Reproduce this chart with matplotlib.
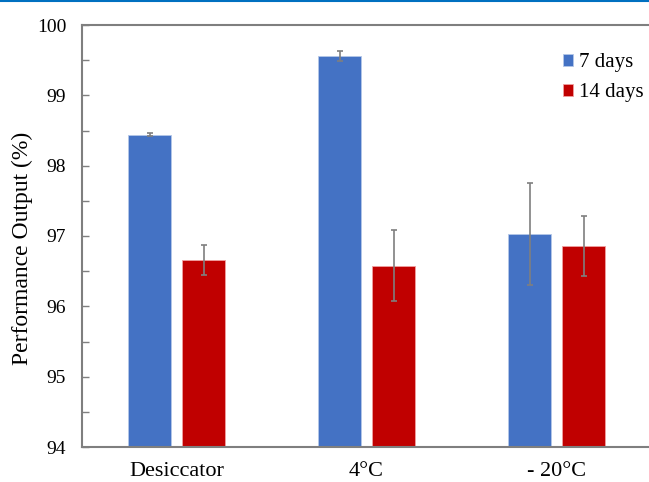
import matplotlib
matplotlib.use("Agg")
import matplotlib.pyplot as plt
from matplotlib.lines import Line2D
from matplotlib.ticker import MultipleLocator
import numpy as np

plt.rcParams['font.family'] = ['Liberation Serif', 'DejaVu Serif']

categories = ['Desiccator', '4°C', '- 20°C']
series_names = ['7 days', '14 days']
values_7 = [98.44, 99.56, 97.03]
errors_7 = [0.02, 0.07, 0.72]
values_14 = [96.66, 96.58, 96.86]
errors_14 = [0.21, 0.50, 0.43]

W, H = 649, 482
fig = plt.figure(figsize=(W / 100, H / 100), dpi=100)

left_px, right_px, top_px, bottom_px = 81.5, 651.5, 25, 447
ax = fig.add_axes([left_px / W, 1 - bottom_px / H,
                   (right_px - left_px) / W, (bottom_px - top_px) / H])

cat_px = 190.0
x = np.arange(len(categories))
off = 27 / cat_px
bw = 43 / cat_px

ekw = dict(ecolor='#7f7f7f', elinewidth=1.2, capsize=2.5, capthick=1.2)
ax.bar(x - off, values_7, bw, yerr=errors_7, color='#4472C4',
       edgecolor='#b4c7e7', linewidth=0.6, label=series_names[0],
       error_kw=ekw, zorder=2)
ax.bar(x + off, values_14, bw, yerr=errors_14, color='#C00000',
       edgecolor='#f0a0a0', linewidth=0.6, label=series_names[1],
       error_kw=ekw, zorder=2)

ax.set_ylim(94, 100)
ax.set_xlim(-0.5, 2.5)
ax.yaxis.set_major_locator(MultipleLocator(1))
ax.yaxis.set_minor_locator(MultipleLocator(0.5))
ax.set_xticks(x)
ax.set_xticklabels(categories)

for s in ax.spines.values():
    s.set_color('#7f7f7f')
    s.set_linewidth(1.5)
ax.spines['right'].set_visible(False)

ax.tick_params(axis='y', which='both', direction='in', length=5, width=1,
               color='#7f7f7f', pad=11, labelsize=14)
ax.tick_params(axis='x', length=0, pad=11, labelsize=16)

ax.set_ylabel('Performance Output (%)', fontsize=17)
ax.yaxis.set_label_coords(33 / W, 1 - 248 / H, transform=fig.transFigure)

ax.legend(loc='upper left', bbox_to_anchor=(563 / W, 1 - 53 / H),
          bbox_transform=fig.transFigure, frameon=False, fontsize=15,
          handlelength=0.5, handleheight=0.5, handletextpad=0.25,
          labelspacing=0.55, borderpad=0, borderaxespad=0)

fig.add_artist(Line2D([0, 1], [1 - 1 / H, 1 - 1 / H], color='#0070c0',
                      linewidth=1.5, transform=fig.transFigure))

fig.savefig('out.png', dpi=100)
